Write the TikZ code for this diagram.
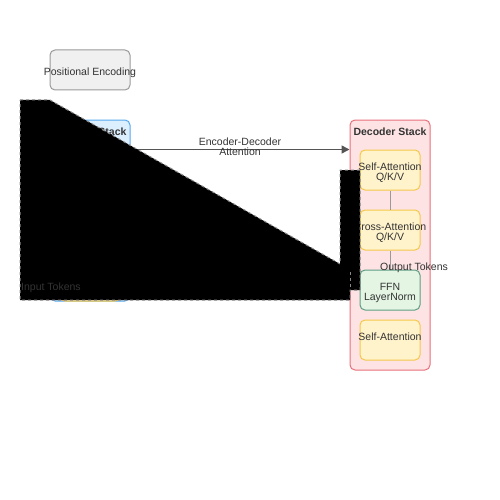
\documentclass[tikz,border=0pt]{standalone}
\usepackage{fontspec}
\setmainfont{Liberation Sans}
\usetikzlibrary{arrows.meta}
\definecolor{txt}{HTML}{333333}
\definecolor{pefill}{HTML}{F0F0F0}
\definecolor{pedraw}{HTML}{999999}
\definecolor{encfill}{HTML}{DCEFFF}
\definecolor{encdraw}{HTML}{55A8EE}
\definecolor{decfill}{HTML}{FDE3E3}
\definecolor{decdraw}{HTML}{E8707C}
\definecolor{yelfill}{HTML}{FFF3CC}
\definecolor{yeldraw}{HTML}{F5C84A}
\definecolor{grnfill}{HTML}{E4F5E4}
\definecolor{grndraw}{HTML}{5E9E84}
\definecolor{arrcol}{HTML}{555555}
\definecolor{conncol}{HTML}{999999}
\definecolor{dashcol}{HTML}{888888}
\begin{document}
\begin{tikzpicture}[x=1pt,y=-1pt,
  font=\fontsize{10.5}{10}\selectfont, text=txt,
  lbl/.style={align=center, inner sep=0pt, yshift=-2.5pt, text=txt},
  box/.style={rounded corners=5pt, line width=1pt, inner sep=0pt},
  pebox/.style={box, fill=pefill, draw=pedraw, minimum width=80pt, minimum height=40pt},
  stackbox/.style={box, minimum width=80pt},
  inbox/.style={box, minimum width=60pt, minimum height=40pt},
  yelbox/.style={inbox, fill=yelfill, draw=yeldraw},
  grnbox/.style={inbox, fill=grnfill, draw=grndraw},
  title/.style={font=\fontsize{10.5}{10}\selectfont\bfseries, inner sep=0pt, yshift=-1pt},
  conn/.style={draw=conncol, line width=1pt},
  arr/.style={draw=arrcol, line width=1.5pt, -{Triangle[length=8pt,width=8pt]}},
  blackshape/.style={fill=black, draw=dashcol, dash pattern=on 3pt off 3pt, line width=1pt},
  plain/.style={inner sep=0pt, yshift=-2pt}]
\useasboundingbox (0,0) rectangle (500,500);

\node[pebox, label={[lbl]center:Positional Encoding}] (pe) at (90,70) {};

% encoder stack (mostly hidden)
\node[stackbox, fill=encfill, draw=encdraw, minimum height=181pt] (enc) at (90,210.5) {};
\node[title] (enct) at (90,131) {Encoder Stack};
\node[yelbox] (encin) at (90,281) {};

% decoder stack
\node[stackbox, fill=decfill, draw=decdraw, minimum height=250pt] (dec) at (390,245) {};
\node[title] (dect) at (390,131) {Decoder Stack};
\node[yelbox, label={[lbl]center:{Self-Attention\\Q/K/V}}] (sa1) at (390,170) {};
\node[yelbox, label={[lbl]center:{Cross-Attention\\Q/K/V}}] (ca) at (390,230) {};
\node[grnbox, label={[lbl]center:{FFN\\LayerNorm}}] (ffn) at (390,290) {};
\node[yelbox, label={[lbl, yshift=6pt]center:Self-Attention}] (sa2) at (390,340) {};
\draw[conn] (sa1) -- (ca);
\draw[conn] (ca) -- (ffn);

\draw[arr] (enc.east |- sa1.north) -- node[inner sep=0pt, align=center, yshift=3pt] (lab) {Encoder-Decoder\\Attention} (dec.west |- sa1.north);

% black dashed shape
\draw[blackshape] (20,100) -- (50,100) -- (340,264) -- (340,170) -- (360,170) -- (360,290) -- (350,290) -- (350,300) -- (20,300) -- cycle;
\draw[draw=dashcol, dash pattern=on 3pt off 3pt, line width=1pt] (350,272) -- (350,290);

\node[plain, anchor=west] (intok) at (21,286) {Input Tokens};
\node[plain] (outtok) at (414,266) {Output Tokens};
\end{tikzpicture}
\end{document}
